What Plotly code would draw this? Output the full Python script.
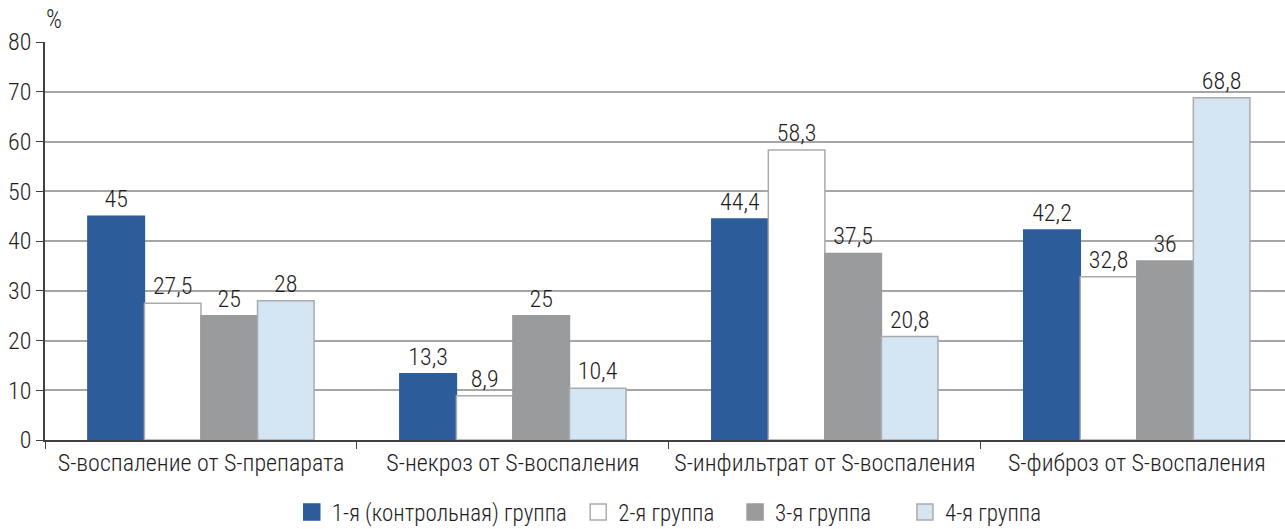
import plotly.graph_objects as go

categories = [
    "S-воспаление от S-препарата",
    "S-некроз от S-воспаления",
    "S-инфильтрат от S-воспаления",
    "S-фиброз от S-воспаления",
]
group_names = [
    "1-я (контрольная) группа",
    "2-я группа",
    "3-я группа",
    "4-я группа",
]
group1 = [45, 13.3, 44.4, 42.2]
group2 = [27.5, 8.9, 58.3, 32.8]
group3 = [25, 25, 37.5, 36]
group4 = [28, 10.4, 20.8, 68.8]

series = [group1, group2, group3, group4]
fills = ["#2d5c9b", "#ffffff", "#999b9c", "#d4e5f3"]
edges = ["#2d5c9b", "#a9abad", "#999b9c", "#a9abad"]
legend_ids = ["legend", "legend2", "legend3", "legend4"]
legend_x = [0.1990, 0.4300, 0.5565, 0.6935]

FONT = "Roboto Condensed, DejaVu Sans Condensed, Roboto, sans-serif"
TXT = "#1f1c1d"
SIZE = 24
WEIGHT = 300


def fmt(v):
    s = f"{v:g}"
    return s.replace(".", ",")


def font(size=SIZE):
    return dict(family=FONT, size=size, color=TXT, weight=WEIGHT)


fig = go.Figure()
for name, vals, fc, ec, lg in zip(group_names, series, fills, edges, legend_ids):
    fig.add_trace(go.Bar(
        x=categories, y=vals, name=name,
        marker=dict(color=fc, line=dict(color=ec, width=1.5)),
        text=[fmt(v) for v in vals], textposition="outside",
        textfont=font(),
        cliponaxis=False, showlegend=False,
    ))
    # legend swatch
    fig.add_trace(go.Scatter(
        x=[None], y=[None], mode="markers", name=name, legend=lg,
        marker=dict(symbol="square", size=18, color=fc, line=dict(color=ec, width=1.5)),
        showlegend=True,
    ))

legend_common = dict(
    orientation="h", xanchor="left", y=-0.181, yanchor="middle",
    font=font(23), itemsizing="trace", bgcolor="rgba(0,0,0,0)",
)
layout_legends = {lg: dict(x=lx, **legend_common) for lg, lx in zip(legend_ids, legend_x)}

fig.update_layout(
    width=1285, height=529,
    margin=dict(l=45, r=0, t=42, b=89, autoexpand=False),
    paper_bgcolor="white", plot_bgcolor="white",
    barmode="group", bargap=0.275, bargroupgap=0,
    font=font(),
    **layout_legends,
)
fig.update_xaxes(
    range=[-0.5, 3.475],
    showline=True, linecolor="#404040", linewidth=1.5,
    ticks="outside", tickson="boundaries", ticklen=7, tickcolor="#404040",
    showgrid=False, tickfont=font(),
)
fig.update_yaxes(
    range=[0, 80], dtick=10,
    showline=True, linecolor="#404040", linewidth=1.5,
    ticks="outside", ticklen=7, tickcolor="#404040",
    showgrid=True, gridcolor="#a6a6a6", gridwidth=1.5,
    zeroline=False, tickfont=font(),
)
fig.add_annotation(
    text="%", xref="paper", yref="paper", x=0.0, y=1.0,
    xanchor="left", yanchor="bottom", xshift=-1, yshift=6, showarrow=False,
    font=font(25),
)

fig.write_html("out.html")
